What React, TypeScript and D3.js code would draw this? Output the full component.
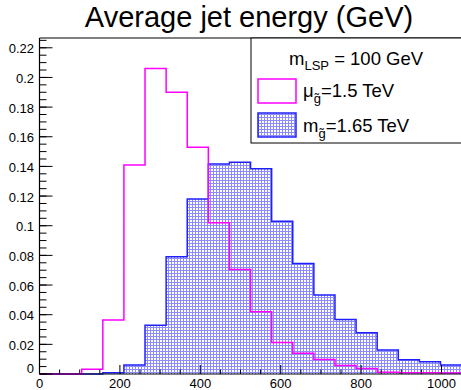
import React from "react";
import * as d3 from "d3";

const binWidth = 52.5;
const nBins = 20;
const pinkValues = [0, 0, 0.0032, 0.0364, 0.141, 0.206, 0.19, 0.153, 0.102, 0.0705, 0.042, 0.0213, 0.014, 0.0097, 0.0057, 0.0037, 0.0011, 0.0009, 0.0008, 0.0006];
const blueValues = [0, 0, 0, 0.0008, 0.006, 0.0328, 0.079, 0.118, 0.1417, 0.1428, 0.1385, 0.103, 0.0745, 0.0532, 0.0368, 0.0279, 0.0162, 0.0096, 0.0082, 0.006];
const xTicks = [0, 200, 400, 600, 800, 1000];
const yTicks = [0, 0.02, 0.04, 0.06, 0.08, 0.1, 0.12, 0.14, 0.16, 0.18, 0.2, 0.22];
const title = "Average jet energy (GeV)";

const W = 461, H = 390;
const X0 = 39.5, X1 = 461.6, Y0 = 374, Y1 = 38;

function stepPoints(vals: number[]): [number, number][] {
  const pts: [number, number][] = [[0, 0]];
  vals.forEach((v, i) => {
    pts.push([i * binWidth, v]);
    pts.push([(i + 1) * binWidth, v]);
  });
  pts.push([nBins * binWidth, 0]);
  return pts;
}

export default function App() {
  React.useEffect(() => {
    document.body.style.margin = "0";
  }, []);
  const x = d3.scaleLinear().domain([0, nBins * binWidth]).range([X0, X1]);
  const y = d3.scaleLinear().domain([0, 0.2266]).range([Y0, Y1]);
  const line = d3.line<[number, number]>().x(d => x(d[0])).y(d => y(d[1]));
  const area = d3.area<[number, number]>().x(d => x(d[0])).y0(y(0)).y1(d => y(d[1]));
  const bluePts = stepPoints(blueValues);
  const pinkPts = stepPoints(pinkValues);
  const yMinor = d3.range(0, 0.2266, 0.005);
  const xMinor = d3.range(0, 1051, 50);
  const font = "Liberation Sans, Arial, sans-serif";
  const fmtY = (v: number) => (v === 0 ? "0" : String(+v.toFixed(2)));
  return (
    <svg width={W} height={H} style={{ position: "absolute", left: 0, top: 0, background: "#fff" }} fontFamily={font}>
      <defs>
        <pattern id="dots" patternUnits="userSpaceOnUse" width={3} height={3}>
          <rect width={3} height={3} fill="#8c8cff" />
          <rect x={1} y={1} width={2} height={2} fill="#ffffff" />
        </pattern>
      </defs>
      <rect width={W} height={H} fill="#fff" />
      {/* histograms */}
      <path d={area(bluePts) || ""} fill="url(#dots)" stroke="none" />
      <path d={line(bluePts) || ""} fill="none" stroke="#2020ff" strokeWidth={1.5} />
      <path d={line(pinkPts) || ""} fill="none" stroke="#ff00ff" strokeWidth={1.5} />
      {/* frame */}
      <line x1={X0} x2={W} y1={Y1} y2={Y1} stroke="#000" strokeWidth={1} />
      <line x1={X0} x2={X0} y1={Y1} y2={Y0} stroke="#000" strokeWidth={1.2} />
      <line x1={X0} x2={W} y1={Y0} y2={Y0} stroke="#000" strokeWidth={1} />
      {/* y ticks */}
      {yMinor.map((v, i) => (
        <line key={"ym" + i} x1={X0} x2={X0 + 7} y1={y(v)} y2={y(v)} stroke="#000" strokeWidth={1} />
      ))}
      {yTicks.map((v, i) => (
        <g key={"yt" + i}>
          <line x1={X0} x2={X0 + 13} y1={y(v)} y2={y(v)} stroke="#000" strokeWidth={1} />
          <text x={34} y={v === 0 ? y(v) - 6 : y(v) + 1} textAnchor="end" dominantBaseline="central" fontSize={13}>
            {fmtY(v)}
          </text>
        </g>
      ))}
      {/* x ticks */}
      {xMinor.map((v, i) => (
        <line key={"xm" + i} x1={x(v)} x2={x(v)} y1={Y0} y2={Y0 - (v % 200 === 0 ? 9 : 4.5)} stroke="#000" strokeWidth={1} />
      ))}
      {xTicks.map((v, i) => (
        <text key={"xt" + i} x={x(v)} y={387.5} textAnchor="middle" fontSize={13}>
          {v}
        </text>
      ))}
      {/* title */}
      <text x={249} y={27} textAnchor="middle" fontSize={29}>{title}</text>
      {/* legend */}
      <rect x={251} y={Y1} width={230} height={105} fill="#fff" stroke="#000" strokeWidth={1} />
      <text x={289} y={65} fontSize={18.5}>
        m<tspan dy={5} fontSize={13}>LSP</tspan><tspan dy={-5}> = 100 GeV</tspan>
      </text>
      <rect x={258} y={79} width={38} height={24} fill="#fff" stroke="#ff00ff" strokeWidth={1.5} />
      <text x={303} y={97} fontSize={18.5}>
        μ<tspan dy={6} fontSize={13}>{"g\u0303"}</tspan><tspan dy={-6}>=1.5 TeV</tspan>
      </text>
      <rect x={258} y={113} width={38} height={24} fill="url(#dots)" stroke="#2020ff" strokeWidth={1.5} />
      <text x={303} y={132} fontSize={18.5}>
        m<tspan dy={6} fontSize={13}>{"g\u0303"}</tspan><tspan dy={-6}>=1.65 TeV</tspan>
      </text>
    </svg>
  );
}
